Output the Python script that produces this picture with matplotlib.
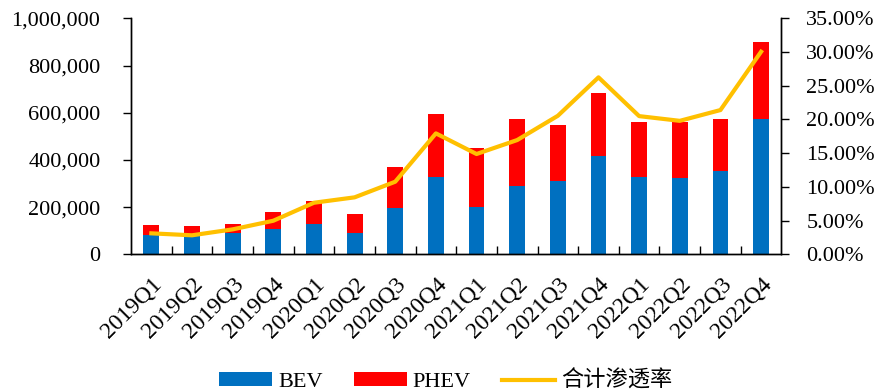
import matplotlib.pyplot as plt
import numpy as np
from matplotlib.ticker import FuncFormatter, FixedLocator

plt.rcParams['font.family'] = ['Liberation Serif', 'Noto Sans CJK SC']

# 季度新能源车销量（辆）与渗透率
quarters = ['2019Q1', '2019Q2', '2019Q3', '2019Q4',
            '2020Q1', '2020Q2', '2020Q3', '2020Q4',
            '2021Q1', '2021Q2', '2021Q3', '2021Q4',
            '2022Q1', '2022Q2', '2022Q3', '2022Q4']
bev = [82000, 76000, 89000, 106000, 130000, 89000, 195000, 326000,
       200000, 289000, 309000, 418000, 326000, 322000, 354000, 573000]
phev = [42000, 44000, 39000, 73000, 96000, 80000, 174000, 268000,
        252000, 284000, 239000, 266000, 236000, 239000, 218000, 325000]
penetration = [3.11, 2.82, 3.70, 4.98, 7.65, 8.45, 10.77, 17.94,
               14.88, 16.95, 20.55, 26.25, 20.50, 19.80, 21.40, 30.05]

fs = 16

fig = plt.figure(figsize=(8.77, 3.91), dpi=100)
ax = fig.add_axes([0.1494, 0.3496, 0.7416, 0.6034])
ax2 = ax.twinx()

x = np.arange(len(quarters))
w = 0.39
b1 = ax.bar(x, bev, width=w, color='#0070C0', label='BEV', zorder=2)
b2 = ax.bar(x, phev, width=w, bottom=bev, color='#FF0000', label='PHEV', zorder=2)
l1, = ax2.plot(x, penetration, color='#FFC000', linewidth=3, label='合计渗透率')

ax.set_xlim(-0.5, len(quarters) - 0.5)
ax.set_ylim(0, 1000000)
ax2.set_ylim(0, 35)
ax.set_yticks(np.arange(0, 1000001, 200000))
ax2.set_yticks(np.arange(0, 35.1, 5))
ax.yaxis.set_major_formatter(FuncFormatter(lambda v, p: f'{int(v):,}'))
ax2.yaxis.set_major_formatter(FuncFormatter(lambda v, p: f'{v:.2f}%'))

ax.set_xticks(x)
ax.set_xticklabels(quarters, rotation=45, ha='right', rotation_mode='anchor')
ax.tick_params(axis='x', which='major', length=0, pad=14, labelsize=fs + 1)
ax.xaxis.set_minor_locator(FixedLocator(np.arange(0.5, len(quarters) - 1, 1)))
ax.tick_params(axis='x', which='minor', direction='in', length=6, width=1)

ax.tick_params(axis='y', labelsize=fs, length=6, width=1, pad=16)
ax2.tick_params(axis='y', labelsize=fs, length=6, width=1, pad=12)
for a in (ax, ax2):
    a.spines['top'].set_visible(False)
    for s in a.spines.values():
        s.set_linewidth(1)

fig.legend(handles=[b1, b2, l1], loc='center', bbox_to_anchor=(0.508, 0.025),
           ncol=3, frameon=False, fontsize=fs, handlelength=2.4, handleheight=0.55,
           columnspacing=1.4, handletextpad=0.25)

fig.savefig('out.png', dpi=100)
